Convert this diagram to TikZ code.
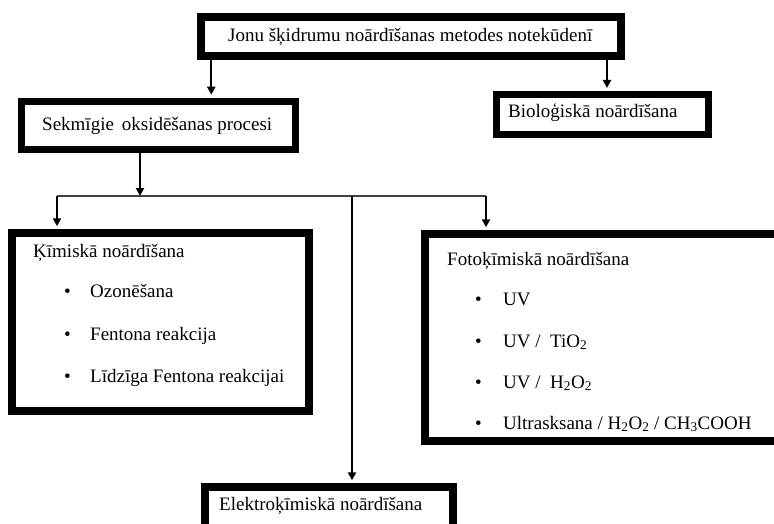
\documentclass[tikz,border=0pt]{standalone}
\usepackage{fontspec}
\setmainfont{Liberation Serif}
\usetikzlibrary{arrows.meta}
\begin{document}
\begin{tikzpicture}[x=1pt,y=-1pt,
  boxS/.style={draw=black, line width=7.5pt, inner sep=0pt, fill=white},
  txt/.style={anchor=base west, inner sep=0pt, font=\fontsize{19}{22}\selectfont},
  arr/.style={draw=black, line width=2.2pt, -{Triangle[length=8pt,width=8pt]}, shorten >=3pt},
  thinl/.style={draw=black!75, line width=1.3pt}]
\useasboundingbox (0,0) rectangle (774,524);
\clip (0,0) rectangle (774,524);
% boxes
\node[boxS, minimum width=420pt, minimum height=39pt] (top) at (411,36.5) {};
\node[boxS, minimum width=274pt, minimum height=48pt] (sek) at (158.5,125.5) {};
\node[boxS, line width=7pt, minimum width=212pt, minimum height=40pt] (bio) at (602.5,114.5) {};
\node[boxS, minimum width=297pt, minimum height=178pt] (kim) at (160.5,322) {};
\node[boxS, minimum width=385pt, minimum height=207pt] (foto) at (617.5,337.5) {};
\node[boxS, minimum width=248pt, minimum height=48pt] (elek) at (329,511) {};
% texts
\node[txt] (ttop) at (228,42) {Jonu šķidrumu noārdīšanas metodes notekūdenī};
\node[txt] (tsek) at (42,131) {Sekmīgie\, oksidēšanas procesi};
\node[txt] (tbio) at (508,118) {Bioloģiskā noārdīšana};
\node[txt] (tkim) at (33,257) {Ķīmiskā noārdīšana};
\node[txt] (bk1) at (64,297) {\textbullet};
\node[txt] (k1) at (90,297) {Ozonēšana};
\node[txt] (bk2) at (64,340) {\textbullet};
\node[txt] (k2) at (90,340) {Fentona reakcija};
\node[txt] (bk3) at (64,382) {\textbullet};
\node[txt] (k3) at (90,382) {Līdzīga Fentona reakcijai};
\node[txt] (tfoto) at (447,265) {Fotoķīmiskā noārdīšana};
\node[txt] (bf1) at (475,305) {\textbullet};
\node[txt] (f1) at (503,305) {UV};
\node[txt] (bf2) at (475,347) {\textbullet};
\node[txt] (f2) at (503,347) {UV / \ TiO\textsubscript{2}};
\node[txt] (bf3) at (475,388) {\textbullet};
\node[txt] (f3) at (503,388) {UV / \ H\textsubscript{2}O\textsubscript{2}};
\node[txt] (bf4) at (475,429) {\textbullet};
\node[txt] (f4) at (503,429) {Ultrasksana / H\textsubscript{2}O\textsubscript{2} / CH\textsubscript{3}COOH};
\node[txt] (telek) at (219,510) {Elektroķīmiskā noārdīšana};
% connectors
\coordinate (jl) at (57,196);
\coordinate (jr) at (486,196);
\coordinate (jm) at (352,196);
\coordinate (js) at (140,196);
\draw[thinl] (jl) -- (jr);
\draw[arr] ([xshift=14pt]top.south west) -- ([xshift=14pt]top.south west |- sek.north);
\draw[arr] ([xshift=196pt]top.south) -- ([xshift=196pt]top.south |- bio.north);
\draw[arr, shorten >=0pt] ([xshift=-18.5pt]sek.south) -- (js);
\draw[arr] (jl) -- (jl |- kim.north);
\draw[arr] (jr) -- (jr |- foto.north);
\draw[arr, line width=2pt] (jm) -- (jm |- elek.north);
\end{tikzpicture}
\end{document}
